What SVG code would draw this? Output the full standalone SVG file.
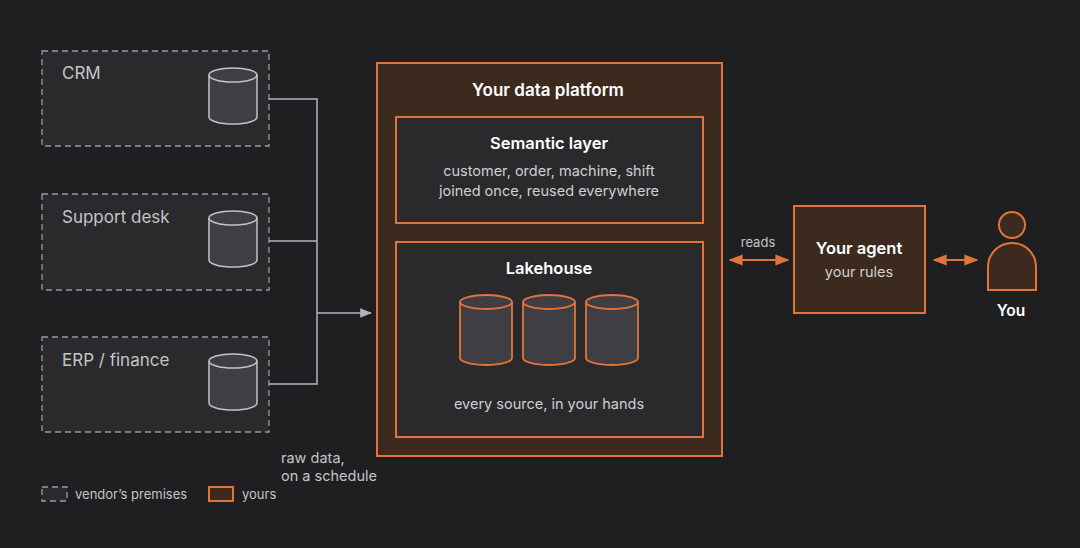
<svg xmlns="http://www.w3.org/2000/svg" width="1080" height="548" viewBox="0 0 1080 548">
<defs>
<style>
text{font-family:Inter,"Liberation Sans",sans-serif}
.v{fill:#2a2a2d;stroke:#9a9a9e;stroke-width:1.3;stroke-dasharray:6 4}
.vt{fill:#c4c4c8;font-size:17px}
.cg{fill:#3e3e44;stroke:#c4c4c8;stroke-width:1.5}
.co{fill:#3e3e44;stroke:#e0743a;stroke-width:1.8}
.o{stroke:#e0743a;stroke-width:2}
.b{fill:#fff;font-weight:600;text-anchor:middle}
.s{fill:#cfcfd3;font-size:14.5px;text-anchor:middle}
.ln{fill:none;stroke:#b4b4b8;stroke-width:1.5}
</style>
<marker id="ag" viewBox="0 0 10 10" refX="9" refY="5" markerWidth="8" markerHeight="8" orient="auto-start-reverse"><path d="M0,1 L10,5 L0,9 z" fill="#b4b4b8"/></marker>
<marker id="ao" viewBox="0 0 10 10" refX="9" refY="5" markerWidth="7" markerHeight="7" orient="auto-start-reverse"><path d="M0,1 L10,5 L0,9 z" fill="#e0743a"/></marker>
<g id="cylg"><path class="cg" d="M-24,-21 v42 a24,7 0 0 0 48,0 v-42"/><ellipse class="cg" cx="0" cy="-21" rx="24" ry="7"/></g>
<g id="cylo"><path class="co" d="M-26,-27 v56 a26,7 0 0 0 52,0 v-56"/><ellipse class="co" cx="0" cy="-27" rx="26" ry="7"/></g>
</defs>
<rect width="1080" height="548" fill="#1f1f21"/>
<g id="crm"><rect class="v" x="42" y="51" width="227" height="95"/><text class="vt" x="62" y="79">CRM</text><use href="#cylg" x="233" y="96"/></g>
<g id="support"><rect class="v" x="42" y="194" width="227" height="96"/><text class="vt" x="62" y="223">Support desk</text><use href="#cylg" x="233" y="239"/></g>
<g id="erp"><rect class="v" x="42" y="337" width="227" height="95"/><text class="vt" x="62" y="366">ERP / finance</text><use href="#cylg" x="233" y="382"/></g>
<g id="connectors">
<path class="ln" d="M269,99 H317 V384 H269 M269,241 H317"/>
<path class="ln" d="M317,313 H371" marker-end="url(#ag)"/>
<path class="o" d="M730,260 H788" marker-start="url(#ao)" marker-end="url(#ao)"/>
<path class="o" d="M934,260 H977" marker-start="url(#ao)" marker-end="url(#ao)"/>
<text x="758" y="247" fill="#c4c4c8" font-size="13" text-anchor="middle">reads</text>
<text x="281" y="463" fill="#c4c4c8" font-size="14.5">raw data,</text>
<text x="281" y="481" fill="#c4c4c8" font-size="14.5">on a schedule</text>
</g>
<g id="platform"><rect class="o" x="377" y="63" width="345" height="393" fill="#3d2a1f"/><text class="b" x="548" y="96" font-size="17">Your data platform</text></g>
<g id="semantic"><rect class="o" x="396" y="117" width="307" height="106" fill="#2a2a2d" stroke-width="1.5"/><text class="b" x="549" y="149" font-size="16.5">Semantic layer</text><text class="s" x="549" y="176">customer, order, machine, shift</text><text class="s" x="549" y="196">joined once, reused everywhere</text></g>
<g id="lakehouse"><rect class="o" x="396" y="242" width="307" height="195" fill="#2a2a2d" stroke-width="1.5"/><text class="b" x="549" y="274" font-size="16.5">Lakehouse</text>
<use href="#cylo" x="486" y="329"/><use href="#cylo" x="549" y="329"/><use href="#cylo" x="612" y="329"/>
<text class="s" x="549" y="409">every source, in your hands</text></g>
<g id="agent"><rect class="o" x="794" y="206" width="131" height="107" fill="#3d2a1f"/><text class="b" x="859" y="254" font-size="16.5">Your agent</text><text class="s" x="859" y="277" fill="#bdbdc0">your rules</text></g>
<g id="you"><circle class="o" cx="1012" cy="225" r="13" fill="#3d2a1f"/><path class="o" d="M988,290 V267 a24,24 0 0 1 48,0 V290 z" fill="#3d2a1f"/><text class="b" x="1011" y="316" font-size="15.5">You</text></g>
<g id="legend"><rect class="v" x="42" y="487" width="25" height="14"/><text x="75" y="499" fill="#c4c4c8" font-size="13">vendor’s premises</text><rect class="o" x="209" y="487" width="24" height="14" fill="#3d2a1f" stroke-width="1.5"/><text x="242" y="499" fill="#c4c4c8" font-size="13">yours</text></g>
</svg>
